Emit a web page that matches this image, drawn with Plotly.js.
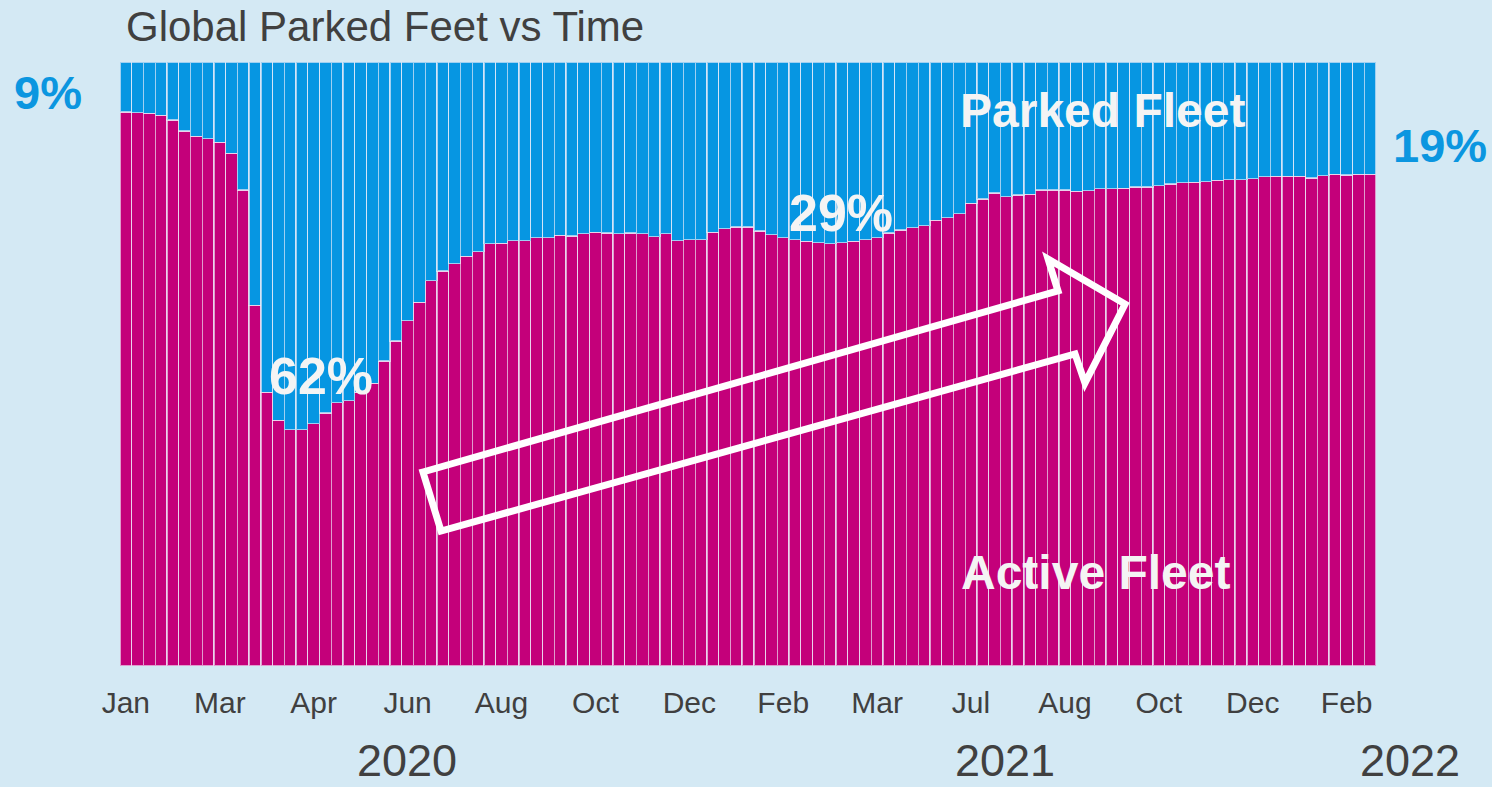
<!DOCTYPE html>
<html>
<head>
<meta charset="utf-8">
<script src="https://cdn.plot.ly/plotly-3.0.1.min.js"></script>
<style>
html,body{margin:0;padding:0;background:#D4E9F4;}
#chart{width:1492px;height:787px;}
</style>
</head>
<body>
<div id="chart"></div>
<script>
// Active fleet share (%) per week, Jan 2020 -> Feb 2022
const activePct = [
  91.7, 91.6, 91.5, 91.2, 90.4, 88.6, 87.7, 87.3, 86.7, 84.9,
  78.8, 59.7, 45.3, 40.7, 39.1, 39.1, 40.1, 41.9, 43.6, 43.9,
  45.3, 46.8, 50.5, 53.8, 57.2, 60.2, 63.8, 65.4, 66.6, 67.8,
  68.6, 69.9, 70.0, 70.4, 70.4, 70.9, 70.9, 71.3, 71.2, 71.6,
  71.8, 71.7, 71.6, 71.7, 71.6, 71.1, 71.6, 70.4, 70.6, 70.6,
  71.8, 72.4, 72.7, 72.7, 72.0, 71.4, 70.9, 70.6, 70.3, 70.1,
  69.9, 70.1, 70.3, 70.6, 70.9, 71.7, 72.2, 72.6, 72.9, 73.8,
  74.2, 74.9, 76.6, 77.3, 78.3, 77.7, 78.0, 78.1, 78.8, 78.8,
  78.8, 78.6, 78.7, 79.0, 79.0, 79.1, 79.3, 79.3, 79.5, 79.8,
  80.0, 80.1, 80.2, 80.4, 80.5, 80.5, 80.7, 81.0, 81.1, 81.1,
  81.1, 80.8, 81.2, 81.4, 81.3, 81.4, 81.4
];
// Parked fleet share is the remainder of 100%
const parkedPct = activePct.map(v => +(100 - v).toFixed(1));
const weekIndex = activePct.map((_, i) => i);

const tickLabels = ["Jan","Mar","Apr","Jun","Aug","Oct","Dec","Feb","Mar","Jul","Aug","Oct","Dec","Feb"];
const tickEvery = 8;
const tickPositions = tickLabels.map((_, i) => i * tickEvery);
const yearLabels = ["2020", "2021", "2022"];
const yearPos = [0.2285, 0.7046, 1.027];

const MAGENTA = "#C4007A";
const BLUE = "#0696E2";
const BG = "#D4E9F4";
const FONT = "Liberation Sans, Arial, sans-serif";
const edge = {color: "rgba(240,240,250,0.65)", width: 1.3};

const traces = [
  {type: "bar", x: weekIndex, y: activePct, name: "Active Fleet",
   marker: {color: MAGENTA, line: edge}, hoverinfo: "y"},
  {type: "bar", x: weekIndex, y: parkedPct, name: "Parked Fleet",
   marker: {color: BLUE, line: edge}, hoverinfo: "y"}
];

const ann = [];
yearLabels.forEach((t, i) => ann.push({
  text: t, xref: "paper", yref: "paper", x: yearPos[i], y: -0.156,
  xanchor: "center", yanchor: "middle", showarrow: false,
  font: {family: FONT, size: 45, color: "#404040"}
}));
const big = (text, x, y, size, color) => ({
  text: "<b>" + text + "</b>", xref: "paper", yref: "paper", x: x, y: y,
  xanchor: "center", yanchor: "middle", showarrow: false,
  font: {family: FONT, size: size, color: color}
});
ann.push(big("9%", -0.0573, 0.949, 47, "#0B96E0"));
ann.push(big("19%", 1.051, 0.861, 47, "#0B96E0"));
ann.push(big("Parked Fleet", 0.7826, 0.919, 48, "#F4F4F4"));
ann.push(big("Active Fleet", 0.7763, 0.154, 48, "#F4F4F4"));
ann.push(big("62%", 0.160, 0.480, 52, "#F4F4F4"));
ann.push(big("29%", 0.574, 0.750, 52, "#F4F4F4"));

const arrowPath = "M0.2412,0.3212 L0.7468,0.6209 L0.7389,0.6738 L0.8002,0.5993 " +
                  "L0.7683,0.4685 L0.7604,0.5166 L0.2556,0.2235 Z";

const layout = {
  width: 1492, height: 787,
  paper_bgcolor: BG, plot_bgcolor: BG,
  margin: {l: 120, r: 116, t: 62, b: 121},
  barmode: "stack", bargap: 0,
  showlegend: false,
  title: {text: "Global Parked Feet vs Time", xref: "container", yref: "container",
          x: 126 / 1492, xanchor: "left", y: 0.966, yanchor: "middle",
          font: {family: FONT, size: 42, color: "#404040"}},
  xaxis: {range: [-0.5, activePct.length - 0.5], tickmode: "array",
          tickvals: tickPositions, ticktext: tickLabels, ticks: "",
          showgrid: false, zeroline: false, showline: false,
          ticklabelstandoff: 16,
          tickfont: {family: FONT, size: 30, color: "#404040"}},
  yaxis: {range: [0, 100], visible: false, showgrid: false, zeroline: false},
  annotations: ann,
  shapes: [{type: "path", path: arrowPath, xref: "paper", yref: "paper",
            line: {color: "#FFFFFF", width: 7}, fillcolor: "rgba(0,0,0,0)", layer: "above"}]
};

Plotly.newPlot("chart", traces, layout, {displayModeBar: false, staticPlot: true});
</script>
</body>
</html>
